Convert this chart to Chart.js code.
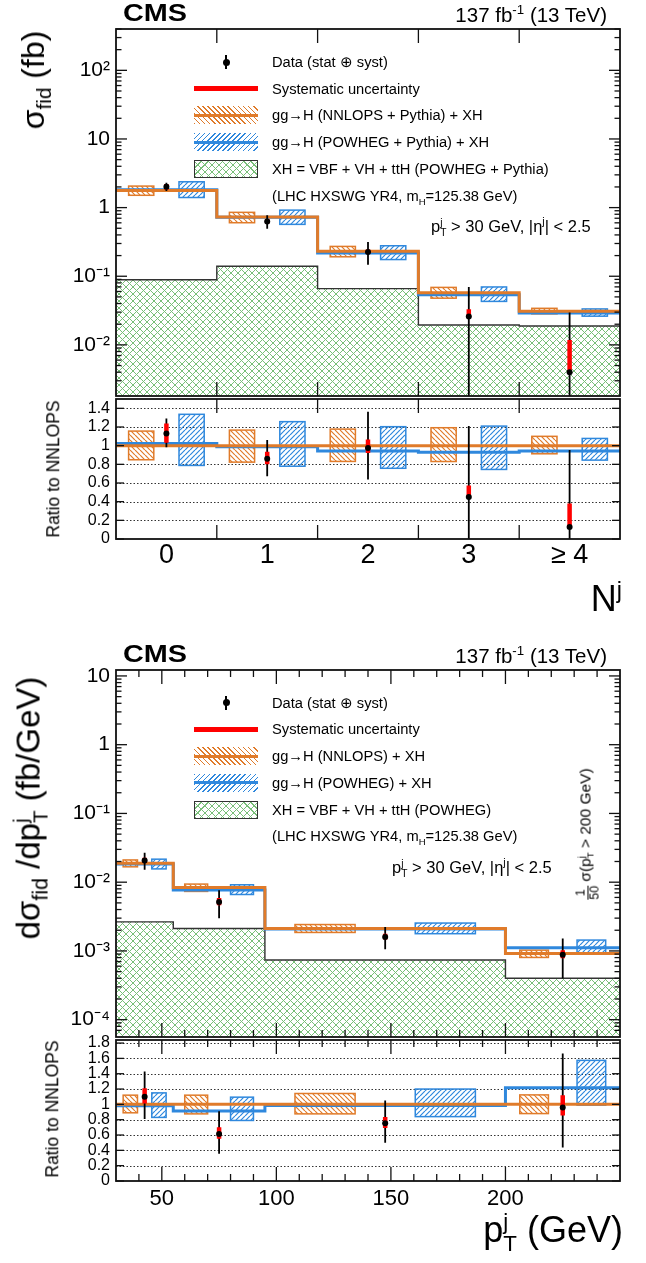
<!DOCTYPE html>
<html>
<head>
<meta charset="utf-8">
<script src="https://cdn.jsdelivr.net/npm/chart.js@4.4.1/dist/chart.umd.min.js"></script>
<style>
body { margin: 0; background: #fff; }
#page { position: relative; width: 646px; height: 1263px; overflow: hidden; font-family: "Liberation Sans", Arial, Helvetica, sans-serif; color: #000; }
canvas { position: absolute; left: 0; }
.t { position: absolute; white-space: nowrap; line-height: 1; }
.vc { transform: translateY(-50%); }
.rot { transform: translate(-50%, -50%) rotate(-90deg); }
sup, sub { font-size: 0.65em; line-height: 0; }
.ss { display: inline-flex; flex-direction: column; font-size: 0.62em; line-height: 1; vertical-align: 0.6em; }
.frac { display: inline-flex; flex-direction: column; font-size: 0.8em; line-height: 1.05; vertical-align: 0.45em; text-align: center; }
.frac span:first-child { border-bottom: 1px solid #000; }
.sym { position: absolute; box-sizing: border-box; }
</style>
</head>
<body>
<div id="page">
  <canvas id="njMain" width="646" height="400" style="top:0px"></canvas>
  <canvas id="njRatio" width="646" height="230" style="top:390px"></canvas>
  <canvas id="ptMain" width="646" height="401" style="top:640px"></canvas>
  <canvas id="ptRatio" width="646" height="232" style="top:1031px"></canvas>
</div>
<script>
// ---- jet multiplicity ----
var njLabels = ['0', '1', '2', '3', '\u2265 4'];
var njEdges = [-0.5, 0.5, 1.5, 2.5, 3.5, 4.5];
var njData = [2.01, 0.629, 0.225, 0.0260, 0.0040];
var njTotLo = [1.75, 0.492, 0.147, 0, 0];
var njTotHi = [2.30, 0.775, 0.315, 0.0698, 0.0296];
var njSysLo = [1.835, 0.586, 0.213, 0.0254, 0.0040];
var njSysHi = [2.205, 0.683, 0.246, 0.0331, 0.0118];
var njNnlops = [1.78, 0.731, 0.231, 0.0577, 0.0310];
var njNnlopsLo = [1.511, 0.602, 0.192, 0.0479, 0.0283];
var njNnlopsHi = [2.058, 0.853, 0.272, 0.0688, 0.0341];
var njPowheg = [1.823, 0.722, 0.218, 0.0537, 0.0292];
var njPowhegLo = [1.403, 0.570, 0.175, 0.0430, 0.0262];
var njPowhegHi = [2.378, 0.919, 0.278, 0.0698, 0.0334];
var njXH = [0.0889, 0.140, 0.0659, 0.0195, 0.0188];
var njRatioTicks = [0, 0.2, 0.4, 0.6, 0.8, 1, 1.2, 1.4];
var njLegend = ['Data (stat \u2295 syst)', 'Systematic uncertainty',
  'gg\u2192H (NNLOPS + Pythia) + XH', 'gg\u2192H (POWHEG + Pythia) + XH',
  'XH = VBF + VH + ttH (POWHEG + Pythia)', '(LHC HXSWG YR4, m<sub>H</sub>=125.38 GeV)'];

// ---- leading jet pT ----
var ptEdges = [30, 55, 95, 200, 250];
var ptTicks = [50, 100, 150, 200];
var ptTickLabels = ['50', '100', '150', '200'];
var ptData = [0.02064, 0.005145, 0.001598, 0.000877];
var ptTotLo = [0.01523, 0.002992, 0.00106, 0.000399];
var ptTotHi = [0.02688, 0.007634, 0.002226, 0.001522];
var ptSysLo = [0.01899, 0.004609, 0.001463, 0.000781];
var ptSysHi = [0.02275, 0.005866, 0.001774, 0.001024];
var ptNnlops = [0.0188, 0.00838, 0.00212, 0.000914];
var ptNnlopsLo = [0.01673, 0.00734, 0.001857, 0.000804];
var ptNnlopsHi = [0.02106, 0.009386, 0.002421, 0.001027];
var ptPowheg = [0.01846, 0.007668, 0.002088, 0.001111];
var ptPowhegLo = [0.0156, 0.00662, 0.001781, 0.000905];
var ptPowhegHi = [0.02162, 0.009168, 0.002544, 0.001439];
var ptXH = [0.00265, 0.00212, 0.000740, 0.000400];
var ptRatioTicks = [0, 0.2, 0.4, 0.6, 0.8, 1, 1.2, 1.4, 1.6, 1.8];
var ptLegend = ['Data (stat \u2295 syst)', 'Systematic uncertainty',
  'gg\u2192H (NNLOPS) + XH', 'gg\u2192H (POWHEG) + XH',
  'XH = VBF + VH + ttH (POWHEG)', '(LHC HXSWG YR4, m<sub>H</sub>=125.38 GeV)'];

var ORANGE = '#e07b2a', BLUE = '#2f88dd', RED = '#ff0000', GREEN = '#78bf78';

Chart.defaults.font.family = '"Liberation Sans", Arial, Helvetica, sans-serif';
Chart.defaults.color = '#000';

function hatch(color, dir, size, lw) {
    var c = document.createElement('canvas');
    c.width = c.height = size;
    var g = c.getContext('2d');
    g.strokeStyle = color;
    g.lineWidth = lw;
    g.beginPath();
    for (var k = -1; k <= 1; k++) {
        if (dir != '/') { g.moveTo(k * size, 0); g.lineTo(k * size + size, size); }
        if (dir != '\\') { g.moveTo(k * size, size); g.lineTo(k * size + size, 0); }
    }
    g.stroke();
    return g.createPattern(c, 'repeat');
}
var orangeHatch = hatch(ORANGE, '\\', 5, 1.2);
var blueHatch = hatch(BLUE, '/', 5, 1.2);
var greenCross = hatch(GREEN, 'x', 7, 1);

function centersOf(edges) { return edges.slice(1).map(function(e, i) { return (edges[i] + e) / 2; }); }
function stepPoints(edges, vals) {
    var pts = [];
    vals.forEach(function(v, i) { pts.push({x: edges[i], y: v}, {x: edges[i + 1], y: v}); });
    return pts;
}
function barPoints(xs, lo, hi, floor) {
    var pts = [];
    xs.forEach(function(x, i) { pts.push({x: x, y: Math.max(lo[i], floor)}, {x: x, y: hi[i]}, {x: x, y: null}); });
    return pts;
}
function pointsOf(xs, ys) { return xs.map(function(x, i) { return {x: x, y: ys[i]}; }); }
function ratioOf(vals, ref) { return vals.map(function(v, i) { return v / ref[i]; }); }

function isPow10(v) { var l = Math.log10(v); return Math.abs(l - Math.round(l)) < 1e-6; }
function isIntMantissa(v) {
    var m = v / Math.pow(10, Math.floor(Math.log10(v) + 1e-9));
    return Math.abs(m - Math.round(m)) < 1e-6;
}
var SUP = {'-': '\u207b', '1': '\u00b9', '2': '\u00b2', '3': '\u00b3', '4': '\u2074'};
function decadeLabel(v) {
    if (!isPow10(v)) return '';
    var e = Math.round(Math.log10(v));
    if (e === 0) return '1';
    if (e === 1) return '10';
    return '10' + String(e).split('').map(function(c) { return SUP[c]; }).join('');
}
function ratioLabel(v) { return String(Math.round(v * 10) / 10); }
function noPad(sc) { sc.paddingTop = 0; sc.paddingBottom = 0; sc.paddingLeft = 0; sc.paddingRight = 0; }

// frame, inside ticks, dotted grid and hatched model boxes
var frameCfg = {};
function seg(ctx, x0, y0, x1, y1) { ctx.beginPath(); ctx.moveTo(x0, y0); ctx.lineTo(x1, y1); ctx.stroke(); }
var framePlugin = {
    id: 'frame',
    beforeDatasetsDraw: function(chart) {
        var cfg = frameCfg[chart.canvas.id];
        if (!cfg) return;
        var ctx = chart.ctx, a = chart.chartArea, x = chart.scales.x, y = chart.scales.y;
        ctx.save();
        ctx.beginPath();
        ctx.rect(a.left, a.top, a.right - a.left, a.bottom - a.top);
        ctx.clip();
        if (cfg.dotted) {
            ctx.strokeStyle = '#333';
            ctx.lineWidth = 1;
            ctx.setLineDash([1.5, 2]);
            y.ticks.forEach(function(t) {
                if (t.value === 0) return;
                var py = Math.round(y.getPixelForValue(t.value)) + 0.5;
                seg(ctx, a.left, py, a.right, py);
            });
            ctx.setLineDash([]);
        }
        cfg.boxes.forEach(function(b) {
            b.lo.forEach(function(lo, i) {
                var c = (cfg.edges[i] + cfg.edges[i + 1]) / 2, w = cfg.edges[i + 1] - cfg.edges[i];
                var x0 = x.getPixelForValue(c + b.frac[0] * w), x1 = x.getPixelForValue(c + b.frac[1] * w);
                var y0 = y.getPixelForValue(b.hi[i]), y1 = y.getPixelForValue(lo);
                ctx.fillStyle = b.pattern;
                ctx.fillRect(x0, y0, x1 - x0, y1 - y0);
                ctx.strokeStyle = b.color;
                ctx.lineWidth = 1.5;
                ctx.strokeRect(x0, y0, x1 - x0, y1 - y0);
            });
        });
        ctx.restore();
    },
    afterDraw: function(chart) {
        var cfg = frameCfg[chart.canvas.id];
        if (!cfg) return;
        var ctx = chart.ctx, a = chart.chartArea, x = chart.scales.x, y = chart.scales.y;
        ctx.save();
        ctx.strokeStyle = '#111';
        ctx.lineWidth = 1.3;
        function xt(v, len) {
            var px = x.getPixelForValue(v);
            seg(ctx, px, a.bottom, px, a.bottom - len);
            seg(ctx, px, a.top, px, a.top + len);
        }
        cfg.xMajor.forEach(function(v) { xt(v, cfg.xLen); });
        cfg.xMinor.forEach(function(v) { xt(v, cfg.xLen / 2); });
        y.ticks.forEach(function(t) {
            var v = t.value, len = 8;
            if (cfg.yLog) len = isPow10(v) ? 11 : (isIntMantissa(v) ? 5.5 : 0);
            if (!len) return;
            var py = y.getPixelForValue(v);
            seg(ctx, a.left, py, a.left + len, py);
            seg(ctx, a.right, py, a.right - len, py);
        });
        ctx.lineWidth = 1.8;
        ctx.strokeRect(a.left, a.top, a.right - a.left, a.bottom - a.top);
        ctx.restore();
    }
};
Chart.register(framePlugin);

function buildMain(id, s) {
    var c = centersOf(s.edges);
    frameCfg[id] = {
        edges: s.edges, xMajor: s.xMajor, xMinor: s.xMinor, xLen: 14, yLog: true,
        boxes: [
            {lo: s.nnlopsLo, hi: s.nnlopsHi, frac: [-0.375, -0.125], pattern: orangeHatch, color: ORANGE},
            {lo: s.powhegLo, hi: s.powhegHi, frac: [0.125, 0.375], pattern: blueHatch, color: BLUE}
        ]
    };
    return new Chart(document.getElementById(id), {
        type: 'line',
        data: {
            datasets: [
                {data: pointsOf(c, s.data), showLine: false, pointRadius: 3, pointBorderWidth: 0, pointBackgroundColor: '#000', order: 0},
                {data: barPoints(c, s.sysLo, s.sysHi, s.yMin), borderColor: RED, borderWidth: 4.5, pointRadius: 0, borderCapStyle: 'butt', order: 1},
                {data: barPoints(c, s.totLo, s.totHi, s.yMin), borderColor: '#000', borderWidth: 1.8, pointRadius: 0, borderCapStyle: 'butt', order: 2},
                {data: stepPoints(s.edges, s.nnlops), borderColor: ORANGE, borderWidth: 3, pointRadius: 0, order: 3},
                {data: stepPoints(s.edges, s.powheg), borderColor: BLUE, borderWidth: 3, pointRadius: 0, order: 4},
                {data: stepPoints(s.edges, s.xh), borderColor: '#333', borderWidth: 1.4, pointRadius: 0, fill: 'start', backgroundColor: greenCross, order: 5}
            ]
        },
        options: {
            responsive: false, animation: false, devicePixelRatio: 1,
            layout: {padding: {left: 0, right: 26, top: s.padTop, bottom: 1}},
            plugins: {legend: {display: false}, tooltip: {enabled: false}},
            scales: {
                x: {type: 'linear', min: s.edges[0], max: s.edges[s.edges.length - 1], display: false},
                y: {
                    type: 'logarithmic', min: s.yMin, max: s.yMax,
                    grid: {display: false, drawTicks: false}, border: {display: false},
                    ticks: {autoSkip: false, padding: 6, font: {size: 21}, callback: decadeLabel},
                    afterFit: function(sc) { sc.width = 116; noPad(sc); }
                }
            }
        }
    });
}

function buildRatio(id, s) {
    var c = centersOf(s.edges);
    var r = function(v) { return ratioOf(v, s.nnlops); };
    frameCfg[id] = {
        edges: s.edges, xMajor: s.xMajor, xMinor: s.xMinor, xLen: 14, yLog: false, dotted: true,
        boxes: [
            {lo: r(s.nnlopsLo), hi: r(s.nnlopsHi), frac: [-0.375, -0.125], pattern: orangeHatch, color: ORANGE},
            {lo: r(s.powhegLo), hi: r(s.powhegHi), frac: [0.125, 0.375], pattern: blueHatch, color: BLUE}
        ]
    };
    return new Chart(document.getElementById(id), {
        type: 'line',
        data: {
            datasets: [
                {data: pointsOf(c, r(s.data)), showLine: false, pointRadius: 3, pointBorderWidth: 0, pointBackgroundColor: '#000', order: 0},
                {data: barPoints(c, r(s.sysLo), r(s.sysHi), 0), borderColor: RED, borderWidth: 4.5, pointRadius: 0, borderCapStyle: 'butt', order: 1},
                {data: barPoints(c, r(s.totLo), r(s.totHi), 0), borderColor: '#000', borderWidth: 1.8, pointRadius: 0, borderCapStyle: 'butt', order: 2},
                {data: stepPoints(s.edges, r(s.nnlops)), borderColor: ORANGE, borderWidth: 3, pointRadius: 0, order: 3},
                {data: stepPoints(s.edges, r(s.powheg)), borderColor: BLUE, borderWidth: 3, pointRadius: 0, order: 4}
            ]
        },
        options: {
            responsive: false, animation: false, devicePixelRatio: 1,
            layout: {padding: {left: 0, right: 26, top: 9, bottom: 0}},
            plugins: {legend: {display: false}, tooltip: {enabled: false}},
            scales: {
                x: {
                    type: 'linear', min: s.edges[0], max: s.edges[s.edges.length - 1],
                    grid: {display: false, drawTicks: false}, border: {display: false},
                    afterBuildTicks: function(sc) { sc.ticks = s.tickVals.map(function(v) { return {value: v}; }); },
                    ticks: {autoSkip: false, maxRotation: 0, padding: s.xPad, font: {size: s.xFont},
                            callback: function(v, i) { return s.tickLabels[i]; }},
                    afterFit: function(sc) { sc.height = s.xHeight; noPad(sc); }
                },
                y: {
                    min: 0, max: s.rMax,
                    grid: {display: false, drawTicks: false}, border: {display: false},
                    afterBuildTicks: function(sc) { sc.ticks = s.rTicks.map(function(v) { return {value: v}; }); },
                    ticks: {autoSkip: false, padding: 6, font: {size: 16}, callback: ratioLabel},
                    afterFit: function(sc) { sc.width = 116; noPad(sc); }
                }
            }
        }
    });
}

var njSet = {
    edges: njEdges, data: njData, totLo: njTotLo, totHi: njTotHi, sysLo: njSysLo, sysHi: njSysHi,
    nnlops: njNnlops, nnlopsLo: njNnlopsLo, nnlopsHi: njNnlopsHi,
    powheg: njPowheg, powhegLo: njPowhegLo, powhegHi: njPowhegHi, xh: njXH,
    xMajor: njEdges.slice(1, -1), xMinor: [],
    tickVals: centersOf(njEdges), tickLabels: njLabels, rTicks: njRatioTicks
};
var minor = [];
for (var v = ptEdges[0] + 10; v < ptEdges[ptEdges.length - 1]; v += 10) if (ptTicks.indexOf(v) < 0) minor.push(v);
var ptSet = {
    edges: ptEdges, data: ptData, totLo: ptTotLo, totHi: ptTotHi, sysLo: ptSysLo, sysHi: ptSysHi,
    nnlops: ptNnlops, nnlopsLo: ptNnlopsLo, nnlopsHi: ptNnlopsHi,
    powheg: ptPowheg, powhegLo: ptPowhegLo, powhegHi: ptPowhegHi, xh: ptXH,
    xMajor: ptTicks, xMinor: minor,
    tickVals: ptTicks, tickLabels: ptTickLabels, rTicks: ptRatioTicks
};

buildMain('njMain', Object.assign({}, njSet, {yMin: 0.0018, yMax: 400, padTop: 29}));
buildRatio('njRatio', Object.assign({}, njSet, {rMax: 1.5, xPad: 0, xFont: 27, xHeight: 81}));
buildMain('ptMain', Object.assign({}, ptSet, {yMin: 5.6e-5, yMax: 12.2, padTop: 30}));
buildRatio('ptRatio', Object.assign({}, ptSet, {rMax: 1.84, xPad: 5, xFont: 22, xHeight: 82}));

// ---- text and legends ----
var page = document.getElementById('page');
function addDiv(html, style, cls) {
    var d = document.createElement('div');
    d.className = cls || 't';
    d.innerHTML = html;
    Object.assign(d.style, style);
    page.appendChild(d);
    return d;
}
var PTJ = 'p<span class="ss"><span>j</span><span>T</span></span>';

function legendBlock(y0, labels) {
    var kinds = ['data', 'syst', 'nnlops', 'powheg', 'xh', ''];
    labels.forEach(function(lab, i) {
        var y = y0 + i * 26.7;
        addDiv(lab, {left: '272px', top: y + 'px', fontSize: '14.7px'}, 't vc');
        var k = kinds[i];
        if (k == 'data') {
            addDiv('', {left: '225px', top: (y - 7) + 'px', width: '2px', height: '14px', background: '#000'}, 'sym');
            addDiv('', {left: '222.5px', top: (y - 3.5) + 'px', width: '7px', height: '7px', borderRadius: '50%', background: '#000'}, 'sym');
        } else if (k == 'syst') {
            addDiv('', {left: '194px', top: (y - 2.5) + 'px', width: '64px', height: '5px', background: RED}, 'sym');
        } else if (k == 'nnlops' || k == 'powheg') {
            var col = k == 'nnlops' ? ORANGE : BLUE, ang = k == 'nnlops' ? '45deg' : '135deg';
            addDiv('', {left: '194px', top: (y - 9) + 'px', width: '64px', height: '18px',
                background: 'repeating-linear-gradient(' + ang + ', ' + col + ' 0 1.2px, transparent 1.2px 3.6px)'}, 'sym');
            addDiv('', {left: '194px', top: (y - 1.5) + 'px', width: '64px', height: '3px', background: col}, 'sym');
        } else if (k == 'xh') {
            addDiv('', {left: '194px', top: (y - 9) + 'px', width: '64px', height: '18px', border: '1.5px solid #333',
                backgroundImage: 'repeating-linear-gradient(45deg, ' + GREEN + ' 0 1px, transparent 1px 5px), repeating-linear-gradient(-45deg, ' + GREEN + ' 0 1px, transparent 1px 5px)'}, 'sym');
        }
    });
}

// top panel
addDiv('CMS', {left: '123px', top: '12.5px', fontSize: '24px', fontWeight: 'bold', transform: 'translateY(-50%) scaleX(1.2)', transformOrigin: 'left center'});
addDiv('137 fb<sup>-1</sup> (13 TeV)', {right: '39px', top: '15px', fontSize: '20.5px'}, 't vc');
legendBlock(62, njLegend);
addDiv(PTJ + ' &gt; 30 GeV, |\u03b7<sup>j</sup>| &lt; 2.5', {left: '431px', top: '228px', fontSize: '16.5px'}, 't vc');
addDiv('\u03c3<sub>fid</sub> (fb)', {left: '33px', top: '80px', fontSize: '32px'}, 't rot');
addDiv('Ratio to NNLOPS', {left: '54px', top: '469px', fontSize: '17.5px'}, 't rot');
addDiv('N<sup>j</sup>', {right: '24px', top: '599px', fontSize: '36px'}, 't vc');

// bottom panel
addDiv('CMS', {left: '123px', top: '654px', fontSize: '24px', fontWeight: 'bold', transform: 'translateY(-50%) scaleX(1.2)', transformOrigin: 'left center'});
addDiv('137 fb<sup>-1</sup> (13 TeV)', {right: '39px', top: '656px', fontSize: '20.5px'}, 't vc');
legendBlock(702.7, ptLegend);
addDiv(PTJ + ' &gt; 30 GeV, |\u03b7<sup>j</sup>| &lt; 2.5', {left: '392px', top: '869px', fontSize: '16.5px'}, 't vc');
addDiv('<span class="frac"><span>1</span><span>50</span></span> \u03c3(' + PTJ + ' &gt; 200 GeV)', {left: '588px', top: '834px', fontSize: '15.5px'}, 't rot');
addDiv('d\u03c3<sub>fid</sub> /d' + PTJ + ' (fb/GeV)', {left: '31px', top: '808px', fontSize: '33px'}, 't rot');
addDiv('Ratio to NNLOPS', {left: '53px', top: '1109px', fontSize: '17.5px'}, 't rot');
addDiv(PTJ + ' (GeV)', {right: '23px', top: '1233px', fontSize: '36px'}, 't vc');
</script>
</body>
</html>
